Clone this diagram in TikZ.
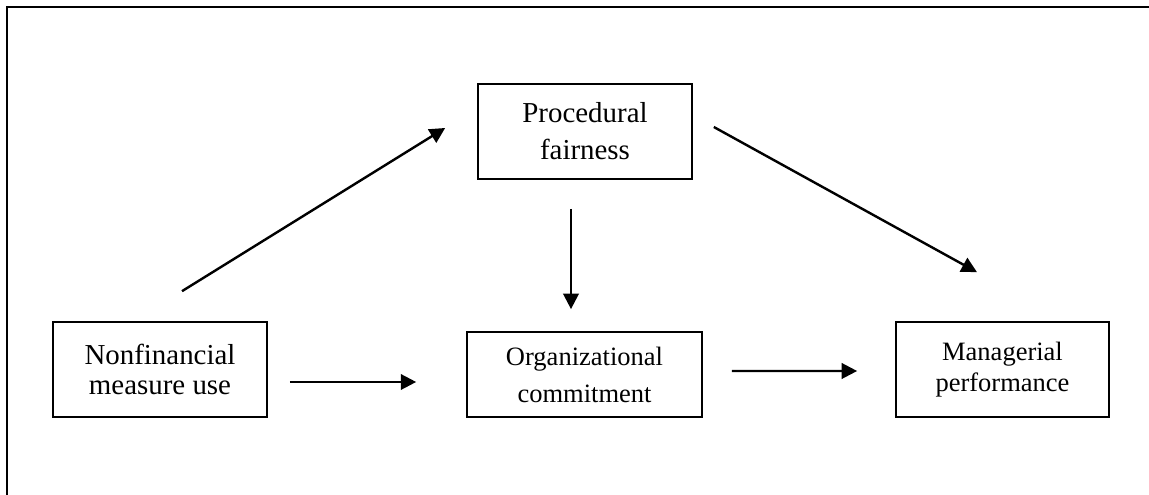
\documentclass[tikz,border=0pt]{standalone}
\usepackage{fontspec}
\setmainfont{Liberation Serif}
\usetikzlibrary{positioning, arrows.meta, calc}
\tikzset{
    varnode/.style={rectangle, draw, line width=0.7pt, align=center, inner sep=0pt},
    widenode/.style={varnode, minimum width=88.8pt, minimum height=39.4pt},
    orgnode/.style={varnode, minimum width=97.5pt, minimum height=35.3pt},
    linkarrow/.style={line width=1pt, -{Triangle[length=6.4pt, width=6.4pt]}}
}

\begin{document}
\begin{tikzpicture}[x=0.415pt, y=-0.415pt]
    \useasboundingbox (0,0) rectangle (1149,495);
    % outer frame, cut at the right and bottom
    \draw[line width=0.9pt] (7,495) -- (7,7) -- (1149,7);
    % variables
    \node[widenode, font=\fontsize{12}{12.5}\selectfont] (nonfin) at (160,369.5) {Nonfinancial\\measure use};
    \node[widenode, font=\fontsize{12}{15.4}\selectfont] (fair) at (585,131.5) {Procedural\\fairness};
    \node[orgnode, font=\fontsize{11}{15.4}\selectfont] (commit) at (584.5,374.5) {Organizational\\commitment};
    \node[widenode, minimum width=88.4pt, font=\fontsize{11}{12.9}\selectfont] (perf) at (1002.5,369.5) {Managerial\\performance};
    % paths
    \draw[linkarrow] ($(nonfin.north)+(22,-30)$) -- ($(fair.west)+(-32,-3.5)$);
    \draw[linkarrow] ($(fair.east)+(21,-4.5)$) -- ($(perf.north)+(-25.5,-49)$);
    \draw[linkarrow] ($(fair.south)+(-14,29)$) -- ($(commit.north)+(-13.5,-22)$);
    \draw[linkarrow] ($(nonfin.east)+(22,12.5)$) -- ($(commit.west)+(-50,7.5)$);
    \draw[linkarrow] ($(commit.east)+(29,-3.5)$) -- ($(perf.west)+(-38,1.5)$);
\end{tikzpicture}
\end{document}
